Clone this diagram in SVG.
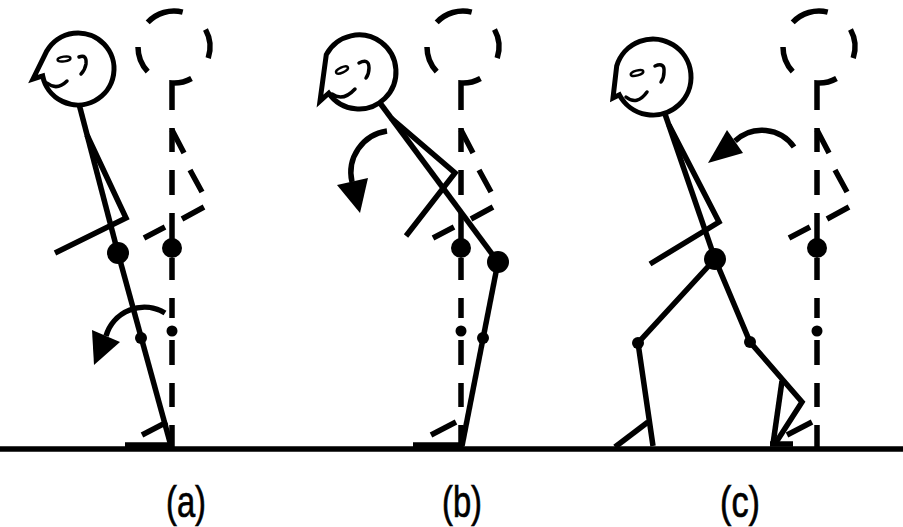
<svg xmlns="http://www.w3.org/2000/svg" xmlns:xlink="http://www.w3.org/1999/xlink" width="903" height="527" viewBox="0 0 903 527">
  <style>
    .ln { fill: none; stroke: #000; stroke-width: 5.5; stroke-linecap: butt; stroke-linejoin: miter; }
    .head { fill: none; stroke: #000; stroke-width: 5; stroke-linejoin: miter; }
    .face { fill: none; stroke: #000; stroke-width: 3.5; stroke-linecap: round; }
    .eye { fill: none; stroke: #000; stroke-width: 2.4; }
    .dot { fill: #000; }
    .label { font-family: "Liberation Sans", Arial, sans-serif; font-size: 44px; fill: #000; stroke: #000; stroke-width: 0.7; }
  </style>
  <defs>
    <!-- upright reference posture, drawn dashed -->
    <g id="ghost-shape">
      <g class="ln">
        <path d="M147.7,22.4 A36,36 0 0 1 182.7,12.1"/>
        <path d="M205.5,29.5 A36,36 0 0 1 208.2,58.1"/>
        <path d="M191.5,78.5 A36,36 0 0 1 172,83 L172,110"/>
        <path d="M147.7,71.6 A36,36 0 0 1 138,47"/>
        <path d="M172,128 V152 M172,170 V195 M172,213 V248 M172,258 V280 M172,298 V318 M172,340 V365 M172,383 V407 M172,425 V447"/>
        <path d="M172,130 L184,153 M190,170 L202,192 M204,207 L182,219 M165,227 L144,238"/>
        <path d="M142,435 L167,422"/>
      </g>
      <circle class="dot" cx="172" cy="248" r="10"/>
      <circle class="dot" cx="172" cy="331" r="5.5"/>
    </g>
  </defs>

  <!-- floor -->
  <g id="ground">
    <line class="ln" x1="0" y1="449" x2="903" y2="449"/>
  </g>

  <!-- (a) -->
  <g id="ghost-a"><use xlink:href="#ghost-shape" href="#ghost-shape"/></g>
  <g id="figure-a">
    <path class="head" d="M42.7,75.9 A36,36 0 1 0 46.8,51 L33,79 Z"/>
    <ellipse class="eye" cx="64" cy="59" rx="6.5" ry="2.4" transform="rotate(-8 64 59)"/>
    <path class="face" d="M79,57 Q87,54 86,64 Q85,70 81,74"/>
    <path class="face" d="M47,83 Q57,91 67,81"/>
    <g class="ln">
      <path d="M79,104 L118,253"/>
      <path d="M87,135 L126,218 L55,253"/>
      <path d="M118,253 L171,446"/>
      <path d="M125,445 H171"/>
    </g>
    <circle class="dot" cx="118" cy="253" r="11"/>
    <circle class="dot" cx="141" cy="338" r="6"/>
  </g>
  <g id="arrow-a">
    <path class="ln" d="M165,313 A40,40 0 0 0 106,336"/>
    <polygon class="dot" points="92,330 120,342 94,365"/>
  </g>

  <!-- (b) -->
  <g id="ghost-b"><use xlink:href="#ghost-shape" href="#ghost-shape" transform="translate(289,0)"/></g>
  <g id="figure-b">
    <path class="head" d="M328.7,93.2 A37,37 0 1 0 326.3,54.6 L320,101 Z"/>
    <ellipse class="eye" cx="342" cy="70" rx="6.5" ry="2.6" transform="rotate(-25 342 70)"/>
    <path class="face" d="M359,63 Q369,58 369,68 Q369,74 366,78"/>
    <path class="face" d="M332,94 Q343,102 355,89"/>
    <g class="ln">
      <path d="M380,103 L498,262"/>
      <path d="M391,118 L455,173 L406,236"/>
      <path d="M498,262 L462,446"/>
      <path d="M413,445 H462"/>
    </g>
    <circle class="dot" cx="498" cy="262" r="11"/>
    <circle class="dot" cx="483" cy="338" r="6"/>
  </g>
  <g id="arrow-b">
    <path class="ln" d="M387,131 A42,42 0 0 0 352,182"/>
    <polygon class="dot" points="337,185 368,178 360,213"/>
  </g>

  <!-- (c) -->
  <g id="ghost-c"><use xlink:href="#ghost-shape" href="#ghost-shape" transform="translate(645,0)"/></g>
  <g id="figure-c">
    <path class="head" d="M619.4,94.8 A38,38 0 1 0 616.7,65.9 L613,98 Z"/>
    <ellipse class="eye" cx="637" cy="73" rx="6.5" ry="2.5" transform="rotate(-15 637 73)"/>
    <path class="face" d="M655,66 Q665,62 664,72 Q664,78 661,82"/>
    <path class="face" d="M626,97 Q637,106 647,92"/>
    <g class="ln">
      <path d="M665,114 L715,259"/>
      <path d="M669,125 L719,222 L650,264"/>
      <path d="M715,259 L638,343 L653,446"/>
      <path d="M615,447 L648,422"/>
      <path d="M715,259 L750,342 L802,402 L775,444"/>
      <path d="M782,381 L773,444"/>
      <path d="M770,444 H793"/>
    </g>
    <circle class="dot" cx="715" cy="259" r="11"/>
    <circle class="dot" cx="638" cy="343" r="6"/>
    <circle class="dot" cx="750" cy="342" r="6"/>
  </g>
  <g id="arrow-c">
    <path class="ln" d="M794,147 A39,39 0 0 0 735,141"/>
    <polygon class="dot" points="708,163 727,130 743,153"/>
  </g>

  <!-- captions -->
  <g id="captions">
    <text class="label" x="166" y="517" textLength="40" lengthAdjust="spacingAndGlyphs">(a)</text>
    <text class="label" x="442" y="517" textLength="40" lengthAdjust="spacingAndGlyphs">(b)</text>
    <text class="label" x="720" y="517" textLength="40" lengthAdjust="spacingAndGlyphs">(c)</text>
  </g>
</svg>
